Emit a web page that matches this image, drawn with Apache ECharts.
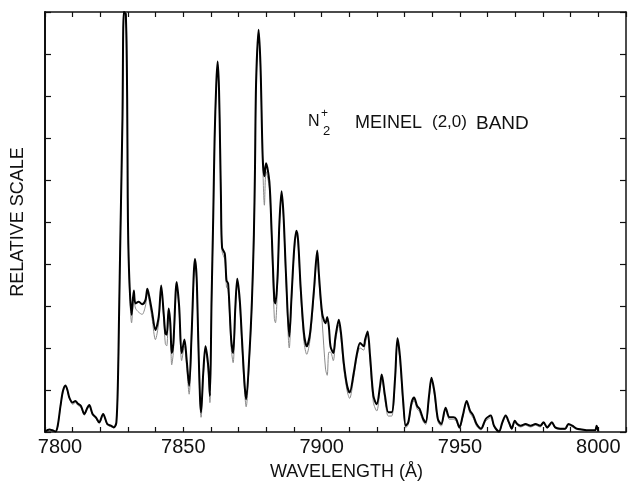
<!DOCTYPE html>
<html>
<head>
<meta charset="UTF-8">
<title>N2+ Meinel (2,0) band</title>
<script src="https://cdn.jsdelivr.net/npm/echarts@6/dist/echarts.min.js"></script>
<style>
    html, body { margin: 0; padding: 0; background: #fff; }
    #main { width: 629px; height: 486px; }
</style>
</head>
<body>
<div id="main"></div>
<script>
// wavelength (A) sample points
var wl = [7800.0, 7801.6, 7802.7, 7803.8, 7804.6, 7805.6, 7806.5, 7807.4, 7808.1, 7808.8,
    7810.0, 7811.0, 7811.8, 7813.0, 7814.2, 7815.3, 7816.0, 7817.2, 7818.4, 7819.6,
    7821.0, 7822.5, 7823.8, 7824.9, 7825.8, 7826.4, 7826.7, 7827.0, 7827.3, 7828.0,
    7828.5, 7829.2, 7829.7, 7829.9, 7830.1, 7830.6, 7831.3, 7832.1, 7832.7, 7833.9,
    7835.1, 7836.3, 7837.0, 7837.7, 7838.7, 7839.9, 7841.1, 7842.0, 7842.9, 7843.5,
    7844.0, 7844.7, 7845.3, 7845.8, 7846.4, 7847.6, 7848.5, 7849.4, 7850.4, 7851.2,
    7852.1, 7853.0, 7854.2, 7854.8, 7855.4, 7856.0, 7856.4, 7857.2, 7858.0, 7859.0,
    7859.6, 7860.2, 7860.8, 7861.3, 7861.9, 7862.4, 7862.9, 7863.3, 7863.6, 7864.0,
    7865.0, 7865.6, 7866.2, 7867.3, 7868.0, 7868.8, 7869.5, 7870.4, 7871.2, 7872.1,
    7872.7, 7873.9, 7874.8, 7875.5, 7875.9, 7876.3, 7877.2, 7877.9, 7878.7, 7879.3,
    7879.9, 7881.1, 7881.9, 7882.9, 7883.3, 7884.1, 7884.7, 7885.5, 7886.2, 7887.1,
    7888.3, 7889.1, 7890.1, 7890.9, 7891.5, 7892.4, 7893.6, 7894.6, 7895.8, 7897.2,
    7898.4, 7899.0, 7900.2, 7901.4, 7902.0, 7902.6, 7903.2, 7904.2, 7905.0, 7906.2,
    7907.0, 7908.0, 7909.2, 7910.1, 7911.6, 7912.8, 7913.9, 7915.2, 7915.7, 7916.6,
    7917.5, 7918.7, 7919.9, 7921.1, 7921.7, 7922.9, 7924.1, 7925.3, 7926.5, 7927.4,
    7928.3, 7929.5, 7930.4, 7931.3, 7932.5, 7933.4, 7934.5, 7935.4, 7936.7, 7937.6,
    7938.8, 7939.7, 7940.8, 7942.0, 7943.2, 7944.8, 7946.2, 7947.6, 7948.6, 7949.8,
    7951.0, 7952.4, 7953.6, 7954.8, 7956.0, 7957.6, 7959.3, 7961.1, 7962.3, 7964.1,
    7965.3, 7966.5, 7967.7, 7968.7, 7969.8, 7970.7, 7971.9, 7973.7, 7975.5, 7977.3,
    7979.0, 7980.2, 7981.5, 7983.2, 7984.4, 7986.2, 7988.0, 7989.2, 7990.6, 7992.2,
    7994.0, 7996.4, 7998.8, 7999.4, 8000.0];

// measured spectrum (heavy trace)
var observed = [0.01, 0.06, 0.04, 0.01, 0.15, 0.62, 0.98, 1.11, 1.00, 0.82,
    0.70, 0.74, 0.68, 0.62, 0.43, 0.58, 0.64, 0.43, 0.35, 0.23,
    0.43, 0.19, 0.15, 0.11, 0.23, 1.33, 2.51, 3.69, 4.86, 7.46,
    10.0, 9.95, 7.93, 5.57, 4.51, 3.45, 2.79, 3.37, 3.06, 3.10,
    3.04, 3.14, 3.41, 3.22, 2.86, 2.43, 2.74, 3.49, 2.82, 2.35,
    2.32, 2.94, 2.59, 1.88, 2.12, 3.57, 2.98, 1.88, 2.20, 1.72,
    1.10, 2.35, 4.12, 3.69, 2.20, 0.86, 0.47, 1.41, 2.04, 1.57,
    0.86, 3.14, 5.10, 6.98, 8.28, 8.82, 8.16, 6.75, 5.57, 4.39,
    4.24, 3.61, 3.53, 2.20, 1.88, 2.98, 3.65, 3.14, 2.20, 1.17,
    0.78, 1.88, 3.14, 4.71, 6.28, 8.32, 9.58, 8.71, 6.51, 6.09,
    6.40, 5.96, 4.79, 3.14, 3.06, 3.76, 4.94, 5.73, 5.18, 3.76,
    2.27, 3.22, 4.39, 4.79, 4.55, 3.45, 2.35, 2.04, 2.35, 3.37,
    4.32, 3.76, 2.82, 2.59, 2.74, 2.51, 2.04, 1.88, 2.27, 2.67,
    2.35, 1.64, 1.10, 0.94, 1.41, 1.88, 2.12, 2.04, 2.20, 2.39,
    1.80, 0.86, 0.66, 1.10, 1.37, 0.86, 0.47, 0.47, 1.25, 2.23,
    1.80, 0.70, 0.15, 0.23, 0.70, 0.82, 0.62, 0.55, 0.31, 0.23,
    0.86, 1.29, 0.94, 0.31, 0.19, 0.58, 0.35, 0.35, 0.31, 0.11,
    0.39, 0.74, 0.51, 0.39, 0.19, 0.08, 0.31, 0.39, 0.15, 0.01,
    0.23, 0.39, 0.23, 0.08, 0.27, 0.19, 0.15, 0.19, 0.15, 0.19,
    0.15, 0.23, 0.11, 0.23, 0.11, 0.08, 0.08, 0.19, 0.15, 0.08,
    0.06, 0.04, 0.04, 0.15, 0.01];

// synthetic spectrum (thin trace)
var synthetic = [0.01, 0.05, 0.04, 0.01, 0.13, 0.60, 0.95, 1.08, 0.98, 0.80,
    0.66, 0.70, 0.64, 0.58, 0.40, 0.54, 0.60, 0.40, 0.32, 0.20,
    0.40, 0.17, 0.13, 0.10, 0.20, 1.20, 2.40, 3.60, 4.80, 7.40,
    9.90, 10.0, 8.20, 5.90, 4.60, 3.30, 2.60, 3.20, 2.95, 2.85,
    2.80, 3.00, 3.30, 3.10, 2.70, 2.20, 2.60, 3.40, 2.70, 2.10,
    2.05, 2.80, 2.45, 1.60, 1.90, 3.45, 2.85, 1.70, 2.05, 1.55,
    0.90, 2.20, 4.00, 3.60, 2.05, 0.70, 0.35, 1.30, 1.95, 1.45,
    0.70, 3.00, 5.00, 6.90, 8.20, 8.70, 8.10, 6.70, 5.50, 4.30,
    4.10, 3.45, 3.40, 2.00, 1.65, 2.85, 3.55, 3.00, 2.05, 1.00,
    0.60, 1.75, 3.05, 4.60, 6.20, 8.25, 9.50, 8.65, 6.40, 5.40,
    6.20, 5.80, 4.60, 2.70, 2.60, 3.60, 4.85, 5.65, 5.10, 3.60,
    2.00, 3.10, 4.30, 4.70, 4.45, 3.30, 2.15, 1.85, 2.20, 3.25,
    4.20, 3.60, 2.60, 1.50, 1.35, 1.90, 1.90, 1.70, 2.15, 2.55,
    2.20, 1.50, 0.98, 0.80, 1.30, 1.80, 2.00, 1.95, 2.10, 2.30,
    1.65, 0.70, 0.50, 1.00, 1.30, 0.75, 0.38, 0.38, 1.15, 2.15,
    1.70, 0.60, 0.10, 0.18, 0.62, 0.75, 0.55, 0.48, 0.25, 0.18,
    0.78, 1.22, 0.85, 0.25, 0.14, 0.52, 0.30, 0.30, 0.26, 0.08,
    0.34, 0.68, 0.45, 0.33, 0.14, 0.05, 0.26, 0.34, 0.12, 0.01,
    0.20, 0.35, 0.20, 0.06, 0.23, 0.16, 0.12, 0.16, 0.12, 0.16,
    0.12, 0.20, 0.09, 0.20, 0.09, 0.06, 0.06, 0.16, 0.12, 0.06,
    0.05, 0.03, 0.03, 0.12, 0.01];

function pairs(ys) {
    var out = [];
    for (var i = 0; i < wl.length; i++) {
        out.push([wl[i], ys[i]]);
    }
    return out;
}

var FONT = 'Liberation Sans';
var INK = '#111';

var myChart = echarts.init(document.getElementById('main'), null, { renderer: 'canvas' });

var xBase = {
    type: 'value',
    min: 7800,
    max: 8010,
    interval: 10,
    splitLine: { show: false },
    axisLine: { show: true, onZero: false, lineStyle: { color: INK, width: 1.5 } },
    axisTick: { show: true, inside: true, length: 5, lineStyle: { color: INK, width: 1.2 } }
};

option = {
    backgroundColor: '#ffffff',
    animation: false,
    grid: { left: 45, right: -2, top: 12, bottom: 49.5 },
    xAxis: [
        Object.assign({}, xBase, {
            position: 'bottom',
            name: 'WAVELENGTH (Å)',
            nameLocation: 'middle',
            nameGap: 31,
            nameTextStyle: { fontFamily: FONT, fontSize: 18, color: INK, padding: [0, 0, 0, 22] },
            axisLabel: {
                show: true,
                margin: 5,
                fontFamily: FONT,
                fontSize: 20,
                color: INK,
                formatter: function (v) {
                    if (v % 50 !== 0) return '';
                    // the first label sits a little right of the corner in the original
                    return v === 7800 ? '{first|' + v + '}' : String(v);
                },
                rich: {
                    first: { fontFamily: FONT, fontSize: 20, color: INK, padding: [0, 0, 0, 30] }
                }
            }
        }),
        Object.assign({}, xBase, {
            position: 'top',
            axisLabel: { show: false }
        })
    ],
    yAxis: [
        {
            type: 'value', min: 0, max: 10, interval: 1,
            position: 'left',
            name: 'RELATIVE SCALE',
            nameLocation: 'middle',
            nameGap: 18,
            nameRotate: 90,
            nameTextStyle: { fontFamily: FONT, fontSize: 18, color: INK },
            splitLine: { show: false },
            axisLabel: { show: false },
            axisLine: { show: true, lineStyle: { color: INK, width: 2 } },
            axisTick: { show: true, inside: true, length: 6, lineStyle: { color: INK, width: 1.2 } }
        },
        {
            type: 'value', min: 0, max: 10, interval: 1,
            position: 'right',
            splitLine: { show: false },
            axisLabel: { show: false },
            axisLine: { show: true, lineStyle: { color: INK, width: 1.5 } },
            axisTick: { show: true, inside: true, length: 6, lineStyle: { color: INK, width: 1.2 } }
        }
    ],
    graphic: [
        { type: 'text', left: 308, top: 114, style: { text: 'N', font: '16px "Liberation Sans"', fill: INK } },
        { type: 'text', left: 321, top: 108, style: { text: '+', font: '12px "Liberation Sans"', fill: INK } },
        { type: 'text', left: 323, top: 125, style: { text: '2', font: '13px "Liberation Sans"', fill: INK } },
        { type: 'text', left: 355, top: 114, style: { text: 'MEINEL', font: '18px "Liberation Sans"', fill: INK } },
        { type: 'text', left: 432, top: 114, style: { text: '(2,0)', font: '17px "Liberation Sans"', fill: INK } },
        { type: 'text', left: 476, top: 114, style: { text: 'BAND', font: '19px "Liberation Sans"', fill: INK } }
    ],
    series: [
        {
            name: 'synthetic',
            type: 'line',
            xAxisIndex: 0,
            yAxisIndex: 0,
            data: pairs(synthetic),
            showSymbol: false,
            smooth: 0.3,
            z: 2,
            lineStyle: { color: '#8a8a8a', width: 1 }
        },
        {
            name: 'observed',
            type: 'line',
            xAxisIndex: 0,
            yAxisIndex: 0,
            data: pairs(observed),
            showSymbol: false,
            smooth: 0.3,
            z: 3,
            lineStyle: { color: '#000', width: 2 }
        }
    ]
};

myChart.setOption(option);
</script>
</body>
</html>
